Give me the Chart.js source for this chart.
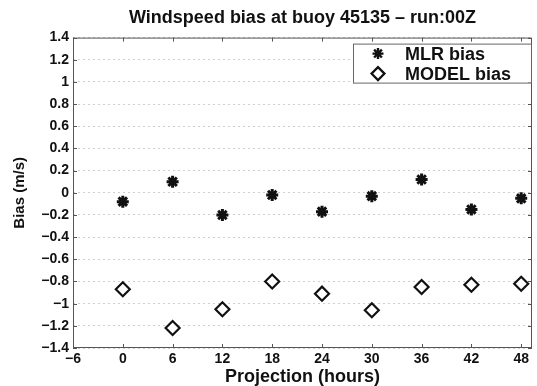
<!DOCTYPE html>
<html>
<head>
<meta charset="utf-8">
<script src="https://cdn.jsdelivr.net/npm/chart.js@4/dist/chart.umd.min.js"></script>
<style>
  html, body { margin: 0; padding: 0; background: #fff; }
  #wrap { width: 537px; height: 386px; }
</style>
</head>
<body>
<div id="wrap"><canvas id="biasChart"></canvas></div>
<script>
// ========== DATA ==========
const projections = [0, 6, 12, 18, 24, 30, 36, 42, 48];
const mlrBias = [-0.08, 0.10, -0.20, -0.02, -0.17, -0.03, 0.12, -0.15, -0.05];
const modelBias = [-0.87, -1.22, -1.05, -0.80, -0.91, -1.06, -0.85, -0.83, -0.82];
const xTicks = [-6, 0, 6, 12, 18, 24, 30, 36, 42, 48];
const yTicks = [-1.4, -1.2, -1, -0.8, -0.6, -0.4, -0.2, 0, 0.2, 0.4, 0.6, 0.8, 1, 1.2, 1.4];

const FONT = '"Liberation Sans", Arial, sans-serif';

function toPoints(values) {
    return projections.map((x, i) => ({ x: x, y: values[i] }));
}

function fmtTick(v) {
    const r = Math.round(v * 10) / 10;
    return r < 0 ? '\u2212' + String(-r) : String(r);
}

// ========== BOX, INWARD TICKS AND LEGEND ==========
const matlabFrame = {
    id: 'matlabFrame',
    afterDatasetsDraw(chart) {
        const { ctx, chartArea: a, scales } = chart;
        ctx.save();
        ctx.strokeStyle = '#555';
        ctx.lineWidth = 1;
        ctx.strokeRect(a.left + 0.5, a.top + 0.5, a.right - a.left - 1, a.bottom - a.top - 1);

        ctx.beginPath();
        xTicks.forEach(v => {
            const px = Math.round(scales.x.getPixelForValue(v)) + 0.5;
            ctx.moveTo(px, a.bottom); ctx.lineTo(px, a.bottom - 4);
            ctx.moveTo(px, a.top); ctx.lineTo(px, a.top + 4);
        });
        yTicks.forEach(v => {
            const py = Math.round(scales.y.getPixelForValue(v)) + 0.5;
            ctx.moveTo(a.left, py); ctx.lineTo(a.left + 4, py);
            ctx.moveTo(a.right, py); ctx.lineTo(a.right - 4, py);
        });
        ctx.stroke();

        // legend box in the upper right corner
        const boxW = 178, boxH = 39;
        const bx = a.right - boxW - 1, by = a.top + 6;
        ctx.fillStyle = '#fff';
        ctx.fillRect(bx, by, boxW, boxH);
        ctx.strokeStyle = '#666';
        ctx.strokeRect(bx + 0.5, by + 0.5, boxW, boxH);

        ctx.font = 'bold 18px ' + FONT;
        ctx.textBaseline = 'middle';
        chart.data.datasets.forEach((ds, i) => {
            const cy = by + 10 + i * 20;
            ctx.lineWidth = ds.pointStyle === 'star' ? 2.4 : ds.borderWidth;
            ctx.strokeStyle = ds.borderColor;
            ctx.fillStyle = ds.backgroundColor;
            Chart.helpers.drawPoint(ctx, {
                pointStyle: ds.pointStyle,
                radius: ds.pointRadius - 0.5,
                borderWidth: ctx.lineWidth
            }, bx + 25, cy);
            ctx.fillStyle = '#111';
            ctx.fillText(ds.label, bx + 52, cy + 1);
        });
        ctx.restore();
    }
};

// ========== CHART ==========
const ctx = document.getElementById('biasChart').getContext('2d');
new Chart(ctx, {
    type: 'scatter',
    data: {
        datasets: [
            {
                label: 'MLR bias',
                data: toPoints(mlrBias),
                pointStyle: 'star',
                pointRadius: 6,
                borderWidth: 3,
                borderColor: '#111',
                backgroundColor: '#111'
            },
            {
                label: 'MODEL bias',
                data: toPoints(modelBias),
                pointStyle: 'rectRot',
                pointRadius: 7,
                borderWidth: 2.2,
                borderColor: '#111',
                backgroundColor: '#fff'
            }
        ]
    },
    options: {
        responsive: true,
        maintainAspectRatio: false,
        animation: false,
        layout: {
            autoPadding: false,
            padding: { left: 11, right: 5, top: 3, bottom: 0 }
        },
        plugins: {
            legend: { display: false },
            tooltip: { enabled: false },
            title: {
                display: true,
                fullSize: false,
                text: 'Windspeed bias at buoy 45135 \u2013 run:00Z',
                color: '#111',
                font: { family: FONT, size: 18, weight: 'bold', lineHeight: 1.2 },
                padding: { top: 4, bottom: 9 }
            }
        },
        scales: {
            x: {
                type: 'linear',
                min: -6,
                max: 49.3,
                afterBuildTicks: axis => { axis.ticks = xTicks.map(v => ({ value: v })); },
                afterFit: axis => {
                    axis.height = 38;
                    axis.paddingLeft = 0;
                    axis.paddingRight = 0;
                },
                grid: { display: false, drawTicks: false },
                border: { display: false },
                ticks: {
                    color: '#111',
                    padding: 3,
                    maxRotation: 0,
                    font: { family: FONT, size: 14, weight: 'bold', lineHeight: 1.1 },
                    callback: v => fmtTick(v)
                },
                title: {
                    display: true,
                    text: 'Projection (hours)',
                    color: '#111',
                    padding: { top: 0, bottom: 0 },
                    font: { family: FONT, size: 18, weight: 'bold', lineHeight: 1 }
                }
            },
            y: {
                min: -1.4,
                max: 1.4,
                afterBuildTicks: axis => { axis.ticks = yTicks.map(v => ({ value: v })); },
                afterFit: axis => {
                    axis.width = 62;
                    axis.paddingTop = 0;
                    axis.paddingBottom = 0;
                },
                grid: {
                    color: '#cfcfcf',
                    lineWidth: 1,
                    drawTicks: false
                },
                border: { display: false, dash: [2, 3] },
                ticks: {
                    color: '#111',
                    padding: 4,
                    font: { family: FONT, size: 14, weight: 'bold' },
                    callback: v => fmtTick(v)
                },
                title: {
                    display: true,
                    text: 'Bias (m/s)',
                    color: '#111',
                    padding: { top: 0, bottom: 0 },
                    font: { family: FONT, size: 15, weight: 'bold' }
                }
            }
        }
    },
    plugins: [matlabFrame]
});
</script>
</body>
</html>
